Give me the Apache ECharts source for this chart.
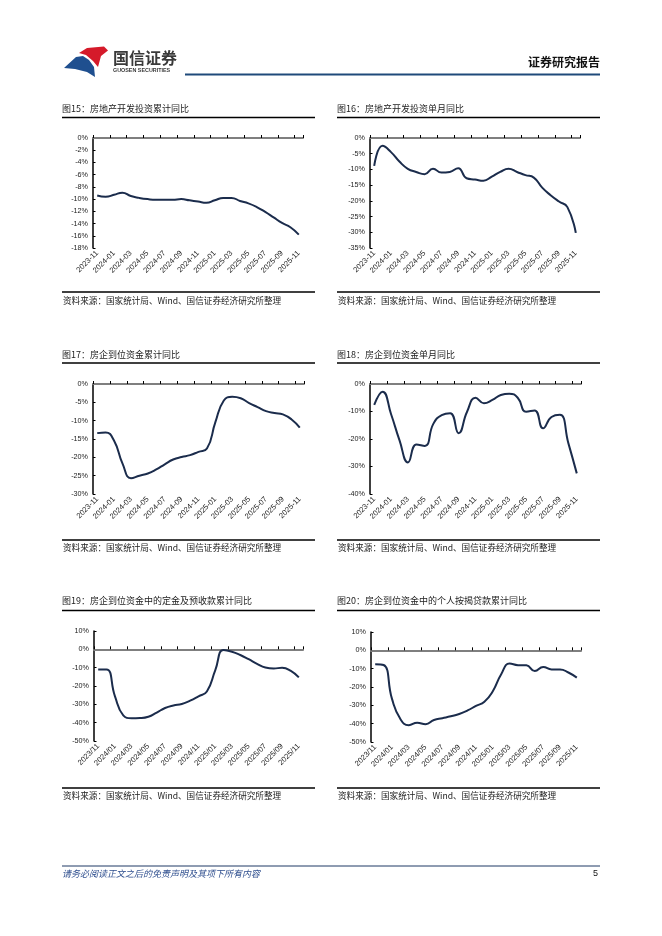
<!DOCTYPE html>
<html>
<head>
<meta charset="utf-8">
<script src="https://cdn.jsdelivr.net/npm/echarts@6/dist/echarts.min.js"></script>
<style>
html,body{margin:0;padding:0;background:#fff;}
#c{width:662px;height:936px;}
</style>
</head>
<body>
<div id="c"></div>
<script>
var months = ['2023-11','2023-12','2024-01','2024-02','2024-03','2024-04','2024-05','2024-06','2024-07','2024-08','2024-09','2024-10','2024-11','2024-12','2025-01','2025-02','2025-03','2025-04','2025-05','2025-06','2025-07','2025-08','2025-09','2025-10','2025-11'];

var invCum = [-9.4,-9.6,-9.3,-8.95,-9.5,-9.8,-10.0,-10.1,-10.1,-10.1,-10.0,-10.2,-10.4,-10.6,-10.2,-9.8,-9.8,-10.3,-10.7,-11.3,-12.1,-13.0,-13.9,-14.6,-15.8];
var invMonth = [-8.9,-2.5,-4.5,-7.5,-9.8,-10.8,-11.5,-9.8,-11.0,-10.8,-9.6,-12.8,-13.2,-13.6,-12.3,-10.8,-9.8,-10.8,-11.8,-12.6,-15.8,-18.2,-20.2,-22.0,-30.2];
var fundCum = [-13.4,-13.2,-15.5,-21.7,-25.7,-25.0,-24.4,-23.3,-21.9,-20.6,-19.9,-19.4,-18.5,-17.6,-10.4,-4.5,-3.5,-3.9,-5.2,-6.3,-7.4,-7.9,-8.3,-9.6,-11.9];
var fundMonth = [-7.6,-2.8,-11.0,-20.5,-28.5,-22.0,-22.5,-14.5,-11.3,-10.6,-17.9,-10.1,-5.0,-7.0,-5.8,-4.0,-3.5,-5.0,-10.1,-9.6,-16.1,-12.0,-11.2,-21.5,-32.5];
var depositCum = [-11.0,-11.0,-25.5,-36.0,-37.6,-37.5,-36.8,-34.5,-32.0,-30.6,-29.8,-28.0,-25.6,-23.0,-11.5,-0.3,-1.3,-3.1,-5.4,-7.9,-9.9,-10.4,-10.1,-11.6,-15.3];
var mortgageCum = [-7.6,-8.0,-26.5,-37.5,-40.8,-39.5,-40.3,-38.0,-37.0,-36.0,-34.7,-32.8,-30.3,-28.0,-22.3,-13.0,-7.2,-8.1,-8.2,-11.3,-9.1,-10.4,-10.4,-12.1,-14.9];

var titles = ['图15：房地产开发投资累计同比','图16：房地产开发投资单月同比','图17：房企到位资金累计同比','图18：房企到位资金单月同比','图19：房企到位资金中的定金及预收款累计同比','图20：房企到位资金中的个人按揭贷款累计同比'];
var sourceText = '资料来源：国家统计局、Wind、国信证券经济研究所整理';
var yMins = [-18,-35,-30,-40,-50,-50];
var yMaxs = [0,0,0,0,10,10];
var yIntervals = [2,5,5,10,10,10];
var seriesList = [invCum, invMonth, fundCum, fundMonth, depositCum, mortgageCum];

var chart = echarts.init(document.getElementById('c'), null, {renderer:'canvas'});

var gridPos = [
  {left:93, top:138, width:210, height:110},
  {left:370, top:138, width:210, height:110},
  {left:93, top:384, width:211, height:110},
  {left:370, top:384, width:211, height:110},
  {left:94, top:631, width:209, height:110},
  {left:371, top:632, width:210, height:110}
];
var colX = [[62,315],[337,600]];
var titleY = [109,355,601];
var ruleY = [117.5,363,610.5];
var srcLineY = [292,540,788];
var srcY = [301,548,796];

var grids=[], xAxes=[], yAxes=[], series=[];
var lineColor = '#1b2c4c';
var tickFont = 'Liberation Sans';
for (var i=0;i<6;i++){
  var g = gridPos[i];
  grids.push({left:g.left, top:g.top, width:g.width, height:g.height});
  var slash = i>=4;
  xAxes.push({
    gridIndex:i, type:'category', data:months, boundaryGap:true, position:'bottom',
    axisLine:{show:false, onZero:false}, axisTick:{show:false},
    axisLabel:{interval:1, rotate:45, fontSize:7.6, color:'#222', fontFamily:tickFont, margin:4,
      formatter:(function(s){return function(v){return s? v.replace('-','/') : v;};})(slash)},
    splitLine:{show:false}
  });
  xAxes.push({
    gridIndex:i, type:'category', data:months, boundaryGap:true, position:'bottom',
    axisLine:{show:true, onZero:true, lineStyle:{color:'#7f7f7f', width:2}},
    axisTick:{show:true, inside:true, interval:1, length:3, lineStyle:{color:'#000', width:1}},
    axisLabel:{show:false}, splitLine:{show:false}, z:3
  });
  yAxes.push({
    gridIndex:i, type:'value', min:yMins[i], max:yMaxs[i], interval:yIntervals[i],
    axisLine:{show:true, lineStyle:{color:'#000', width:1.5}},
    axisTick:{show:true, inside:true, length:2.5, lineStyle:{color:'#000'}},
    axisLabel:{formatter:'{value}%', fontSize:7.2, color:'#222', fontFamily:tickFont, margin:5},
    splitLine:{show:false}
  });
  series.push({
    type:'line', xAxisIndex:i*2, yAxisIndex:i, data:seriesList[i], smooth:0.5,
    symbol:'none', lineStyle:{color:lineColor, width:2}, z:5
  });
}

var graphics = [];
// logo
graphics.push({type:'polygon', shape:{points:[[79,53],[87,48],[104,46.5],[108,50.5],[101,56],[98,67],[93,61],[86,55]]}, smooth:0.2, style:{fill:'#d51a2a'}});
graphics.push({type:'polygon', shape:{points:[[64,68],[76,57],[83,56],[89,60],[94,67],[95,77],[87,72],[75,69]]}, style:{fill:'#1f4f8f'}});
graphics.push({type:'text', x:113, y:58, style:{text:'国信证券', font:'bold 16px "Noto Sans CJK SC"', fill:'#3a3a3a', textVerticalAlign:'middle'}});
graphics.push({type:'text', x:113, y:71, style:{text:'GUOSEN SECURITIES', font:'bold 5.4px "Liberation Sans"', fill:'#3a3a3a', textVerticalAlign:'middle'}});
graphics.push({type:'text', x:600, y:62, style:{text:'证券研究报告', font:'bold 12px "Noto Sans CJK SC"', fill:'#111', textAlign:'right', textVerticalAlign:'middle'}});
graphics.push({type:'line', shape:{x1:185,y1:74.5,x2:600,y2:74.5}, style:{stroke:'#1f4a7a', lineWidth:2}});

for (var r=0;r<3;r++){
  for (var c=0;c<2;c++){
    var idx = r*2+c;
    var x1 = colX[c][0], x2 = colX[c][1];
    graphics.push({type:'text', x:x1, y:titleY[r], style:{text:titles[idx], font:'9px "Noto Sans CJK SC"', fill:'#222', textVerticalAlign:'middle'}});
    graphics.push({type:'line', shape:{x1:x1,y1:ruleY[r],x2:x2,y2:ruleY[r]}, style:{stroke:'#000', lineWidth:1.3}});
    graphics.push({type:'line', shape:{x1:x1,y1:srcLineY[r],x2:x2,y2:srcLineY[r]}, style:{stroke:'#000', lineWidth:1.3}});
    graphics.push({type:'text', x:x1+1, y:srcY[r], style:{text:sourceText, font:'8.6px "Noto Sans CJK SC"', fill:'#222', textVerticalAlign:'middle'}});
  }
}
// footer
graphics.push({type:'line', shape:{x1:62,y1:866,x2:600,y2:866}, style:{stroke:'#1f3864', lineWidth:1}});
graphics.push({type:'text', x:62, y:874, style:{text:'请务必阅读正文之后的免责声明及其项下所有内容', font:'italic 9px "Noto Sans CJK SC"', fill:'#2f4f8f', textVerticalAlign:'middle'}});
graphics.push({type:'text', x:598, y:874, style:{text:'5', font:'9px "Liberation Sans"', fill:'#111', textAlign:'right', textVerticalAlign:'middle'}});

chart.setOption({
  animation:false,
  backgroundColor:'#fff',
  grid:grids, xAxis:xAxes, yAxis:yAxes, series:series,
  graphic:{elements:graphics}
});
</script>
</body>
</html>
